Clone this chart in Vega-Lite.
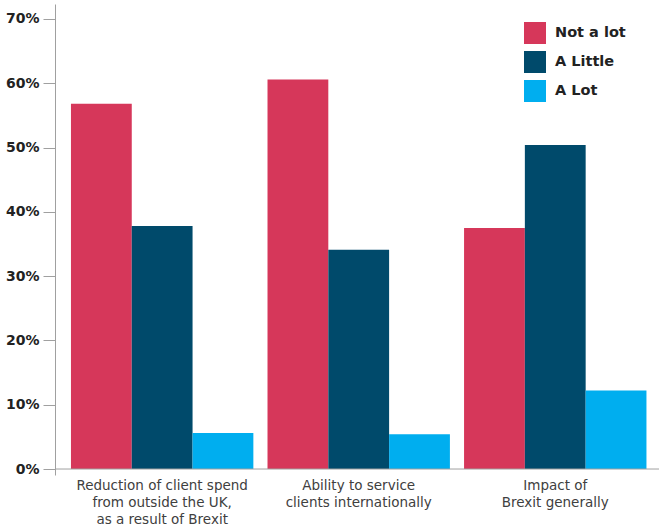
{
  "$schema": "https://vega.github.io/schema/vega-lite/v6.json",
  "width": 604,
  "height": 471,
  "autosize": {"type": "none"},
  "padding": {"left": 55, "top": 4, "right": 0, "bottom": 51},
  "background": "white",
  "config": {
    "view": {"stroke": null},
    "font": "DejaVu Sans"
  },
  "data": {
    "values": [
      {"question": "Reduction of client spend|from outside the UK,|as a result of Brexit", "answer": "Not a lot", "share": 0.568},
      {"question": "Reduction of client spend|from outside the UK,|as a result of Brexit", "answer": "A Little", "share": 0.378},
      {"question": "Reduction of client spend|from outside the UK,|as a result of Brexit", "answer": "A Lot", "share": 0.056},
      {"question": "Ability to service|clients internationally", "answer": "Not a lot", "share": 0.606},
      {"question": "Ability to service|clients internationally", "answer": "A Little", "share": 0.341},
      {"question": "Ability to service|clients internationally", "answer": "A Lot", "share": 0.054},
      {"question": "Impact of|Brexit generally", "answer": "Not a lot", "share": 0.375},
      {"question": "Impact of|Brexit generally", "answer": "A Little", "share": 0.504},
      {"question": "Impact of|Brexit generally", "answer": "A Lot", "share": 0.122}
    ]
  },
  "layer": [
    {
      "mark": {"type": "bar"},
      "encoding": {
        "x": {
          "field": "question",
          "type": "nominal",
          "sort": null,
          "scale": {"paddingInner": 0.072, "paddingOuter": 0.0725, "align": 0.56},
          "axis": {
            "title": null,
            "domain": false,
            "ticks": false,
            "labelAngle": 0,
            "labelExpr": "split(datum.label, '|')",
            "labelFont": "DejaVu Sans",
            "labelFontSize": 13.5,
            "labelColor": "#404040",
            "labelLineHeight": 17,
            "labelPadding": 3
          }
        },
        "xOffset": {
          "field": "answer",
          "type": "nominal",
          "sort": ["Not a lot", "A Little", "A Lot"],
          "scale": {"paddingInner": 0, "paddingOuter": 0}
        },
        "y": {
          "field": "share",
          "type": "quantitative",
          "scale": {"domain": [-0.0093, 0.7233], "nice": false, "zero": false},
          "axis": {
            "title": null,
            "values": [0, 0.1, 0.2, 0.3, 0.4, 0.5, 0.6, 0.7],
            "format": ".0%",
            "grid": false,
            "domainColor": "#a0a0a0",
            "tickColor": "#a0a0a0",
            "tickSize": 12,
            "labelFont": "DejaVu Sans",
            "labelFontWeight": "bold",
            "labelFontSize": 14,
            "labelColor": "#222222",
            "labelPadding": 4
          }
        },
        "y2": {"datum": 0},
        "color": {
          "field": "answer",
          "type": "nominal",
          "sort": ["Not a lot", "A Little", "A Lot"],
          "scale": {"domain": ["Not a lot", "A Little", "A Lot"], "range": ["#D6375A", "#004A6B", "#00AEEF"]},
          "legend": {
            "title": null,
            "orient": "none",
            "legendX": 469,
            "legendY": 18,
            "symbolType": "square",
            "symbolSize": 484,
            "symbolStrokeWidth": 0,
            "symbolOpacity": 1,
            "labelFont": "DejaVu Sans",
            "labelFontWeight": "bold",
            "labelFontSize": 14.5,
            "labelColor": "#222222",
            "labelOffset": 9,
            "rowPadding": 7
          }
        }
      }
    },
    {
      "data": {"values": [{"base": 0}]},
      "mark": {"type": "rule", "color": "#a0a0a0", "strokeWidth": 1},
      "encoding": {"y": {"field": "base", "type": "quantitative"}}
    }
  ]
}
